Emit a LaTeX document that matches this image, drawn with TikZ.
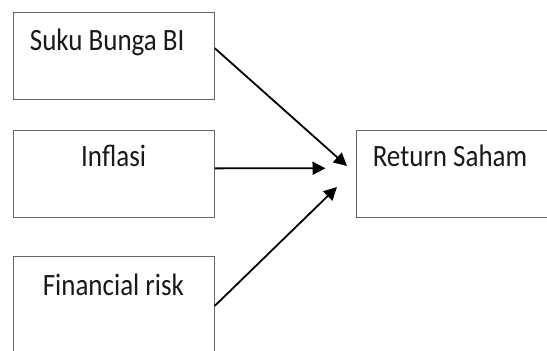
\documentclass[tikz,border=0pt]{standalone}
\usepackage{fontspec}
\setmainfont{Carlito}
\usetikzlibrary{arrows.meta,calc}
\newcommand{\tallt}[1]{\scalebox{1}[1.15]{#1}}
\begin{document}
\begin{tikzpicture}[x=1pt,y=-1pt,
  box/.style={draw=black!60, line width=1pt, rectangle, inner sep=0pt},
  lbl/.style={font=\fontsize{27}{32}\selectfont, inner sep=0pt, anchor=base, text=black!90},
  arr/.style={draw=black, line width=1.8pt, -{Triangle[length=13pt,width=13pt]}}]
\useasboundingbox (0,0) rectangle (547,351);
\clip (0,0) rectangle (547,351);
\node[box, minimum width=201pt, minimum height=87pt] (b1) at (113.8,55.8) {};
\node[box, minimum width=201pt, minimum height=87.3pt] (b2) at (113.8,173.65) {};
\node[box, minimum width=201pt, minimum height=143.3pt] (b3) at (113.8,328.35) {};
\node[box, minimum width=243.3pt, minimum height=87.3pt] (r) at (478.35,173.65) {};
\node[lbl] (t1) at (107.2,50.7) {\tallt{Suku Bunga BI}};
\node[lbl] (t2) at (113.6,166.7) {\tallt{Inflasi}};
\node[lbl] (t3) at (113.4,295) {\tallt{Financial risk}};
\node[lbl] (t4) at (450,166.7) {\tallt{Return Saham}};
\coordinate (s1) at ($(b1.north east)!0.414!(b1.south east)$);
\coordinate (s2) at ($(b2.north east)!0.44!(b2.south east)$);
\coordinate (s3) at ($(b3.north east)!0.344!(b3.south east)$);
\coordinate (e1) at (347,166);
\coordinate (e2) at (325.5,168.3);
\coordinate (e3) at (337,187);
\draw[arr] (s1) -- (e1);
\draw[arr] (s2) -- (e2);
\draw[arr] (s3) -- (e3);
\end{tikzpicture}
\end{document}
